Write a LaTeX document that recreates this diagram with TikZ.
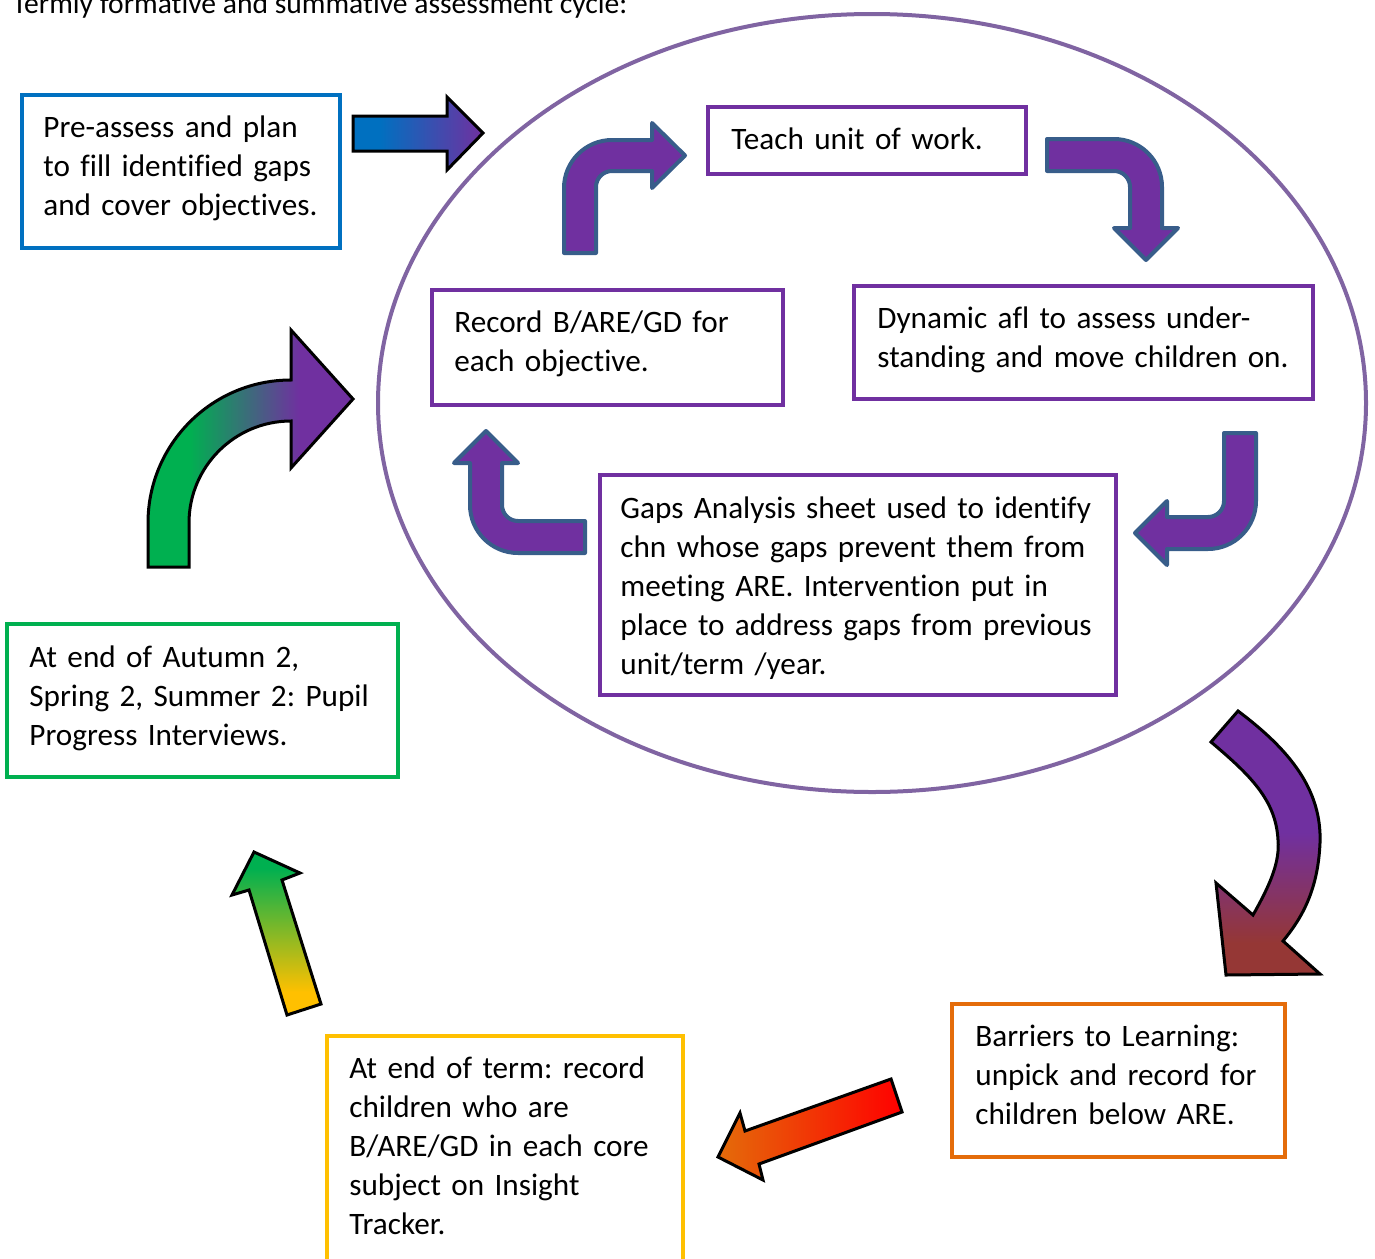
\documentclass[tikz,border=0pt]{standalone}
\usepackage{fontspec}
\setmainfont{Carlito}[Ligatures=NoCommon]
\usetikzlibrary{fit,shapes.geometric}
\definecolor{cblue}{HTML}{0070C0}
\definecolor{cpurple}{HTML}{7030A0}
\definecolor{cell}{HTML}{8064A2}
\definecolor{cgreen}{HTML}{00B050}
\definecolor{corange}{HTML}{E46C0A}
\definecolor{cyellow}{HTML}{FFC000}
\definecolor{coutline}{HTML}{385D8A}
\definecolor{cbrown}{HTML}{953735}
\definecolor{cred}{HTML}{FF0000}
\pgfdeclarehorizontalshading{grnpur}{100bp}{color(0bp)=(cgreen); color(35bp)=(cgreen); color(62bp)=(cpurple); color(100bp)=(cpurple)}
\pgfdeclareverticalshading{purbrn}{100bp}{color(0bp)=(cbrown); color(31bp)=(cbrown); color(52bp)=(cpurple); color(100bp)=(cpurple)}
\pgfdeclarehorizontalshading{blupur}{100bp}{color(0bp)=(cblue); color(35bp)=(cblue); color(75bp)=(cpurple); color(100bp)=(cpurple)}
\pgfdeclareverticalshading{yelgrn}{100bp}{color(0bp)=(cyellow); color(32bp)=(cyellow); color(70bp)=(cgreen); color(100bp)=(cgreen)}
\begin{document}
\frenchspacing
\begin{tikzpicture}[x=0.5pt,y=-0.5pt,
  box/.style={draw=#1, line width=2pt, inner sep=0pt},
  txt/.style={font=\fontsize{15.6}{19.5}\selectfont\frenchspacing, inner sep=0pt, anchor=base west, align=left, text width=300pt},
  bent/.style={fill=cpurple, draw=coutline, line width=2pt, line join=round},
  blk/.style={draw=black, line width=1.5pt, line join=miter}]
\useasboundingbox (0,0) rectangle (1375,1258);

\node[font=\fontsize{14.8}{18}\selectfont, inner sep=0pt, anchor=base west] (title) at (12,13) {Termly formative and summative assessment cycle:};

\node[draw=cell, line width=2pt, ellipse, inner sep=0pt, minimum width=494pt, minimum height=389pt] (loop) at (872,403) {};

% boxes
\node[box=cblue, fit={(21.5,94.5) (339.5,247.5)}] (pre) {};
\node[box=cpurple, fit={(708,107) (1026,174)}] (teach) {};
\node[box=cpurple, fit={(432,290) (783,405)}] (rec) {};
\node[box=cpurple, fit={(854,286) (1313,399)}] (dyn) {};
\node[box=cpurple, fit={(599.5,475) (1116,695)}] (gaps) {};
\node[box=cgreen, fit={(7,624) (398,777)}] (aut) {};
\node[box=corange, fit={(952,1004) (1285,1157)}] (barr) {};
\node[box=cyellow, fit={(327,1035.5) (682.5,1280)}] (term) {};

% texts
\node[txt] (pretxt) at (43,137) {Pre-assess and plan\\to fill identified gaps\\and cover objectives.};
\node[txt] (teachtxt) at (731,149) {Teach unit of work.};
\node[txt] (rectxt) at (454,332) {Record B/ARE/GD for\\each objective.};
\node[txt] (dyntxt) at (877,328) {Dynamic afl to assess under-\\standing and move children on.};
\node[txt] (gapstxt) at (620,518) {Gaps Analysis sheet used to identify\\chn whose gaps prevent them from\\meeting ARE. Intervention put in\\place to address gaps from previous\\unit/term /year.};
\node[txt] (auttxt) at (29,667) {At end of Autumn 2,\\Spring 2, Summer 2: Pupil\\Progress Interviews.};
\node[txt] (barrtxt) at (975,1046) {Barriers to Learning:\\unpick and record for\\children below ARE.};
\node[txt] (termtxt) at (349,1078) {At end of term: record\\children who are\\B/ARE/GD in each core\\subject on Insight\\Tracker.};

% blue arrow into the cycle
\shadedraw[blk, shading=blupur] (353,116) -- (447,116) -- (447,97) -- (483,133) -- (447,170) -- (447,151) -- (353,151) -- cycle;

% inner purple bent arrows
\draw[bent] (564,253) -- (564,188) .. controls (564,161.5) and (585.5,140) .. (612,140) -- (652,140) -- (652,123) -- (685,155.5) -- (652,188) -- (652,171) -- (612,171) .. controls (603.2,171) and (596,178.2) .. (596,187) -- (596,253) -- cycle;
\draw[bent] (1047,139) -- (1114,139) .. controls (1140.5,139) and (1162,160.5) .. (1162,187) -- (1162,228) -- (1178,228) -- (1146,260) -- (1114,228) -- (1130,228) -- (1130,187) .. controls (1130,178.2) and (1122.8,171) .. (1114,171) -- (1047,171) -- cycle;
\draw[bent] (1224,433) -- (1256,433) -- (1256,501) .. controls (1256,527.5) and (1234.5,549) .. (1208,549) -- (1167,549) -- (1167,565) -- (1135,533) -- (1167,501) -- (1167,517) -- (1208,517) .. controls (1216.8,517) and (1224,509.8) .. (1224,501) -- cycle;
\draw[bent] (585,521) -- (518,521) .. controls (509.2,521) and (502,513.8) .. (502,505) -- (502,463) -- (518,463) -- (486,431) -- (454,463) -- (470,463) -- (470,505) .. controls (470,531.5) and (491.5,553) .. (518,553) -- (585,553) -- cycle;

% outer cycle arrows
\shadedraw[blk, shading=grnpur] (148,567) -- (148,523) .. controls (148,444) and (212,380) .. (291,380) -- (291,330) -- (353,399) -- (291,468) -- (291,421) .. controls (234.7,421) and (189,466.7) .. (189,523) -- (189,567) -- cycle;
\shadedraw[blk, shading=purbrn] (1211,742) -- (1238,711) .. controls (1290,750) and (1322,790) .. (1320,843) .. controls (1318,890) and (1302,918) .. (1283,941) -- (1320,974) -- (1226,975) -- (1216,883) -- (1253,915) .. controls (1270,885) and (1280,862) .. (1278,840) .. controls (1276,800) and (1250,775) .. (1211,742) -- cycle;
\shadedraw[blk, left color=corange, right color=cred] (891,1079) -- (745,1131) -- (740,1113) -- (718,1157) -- (763,1180) -- (759,1164) -- (902,1112) -- cycle;
\shadedraw[blk, shading=yelgrn] (287,1015) -- (249,890) -- (232,895) -- (254,852) -- (300,873) -- (282,880) -- (321,1004) -- cycle;
\end{tikzpicture}
\end{document}
